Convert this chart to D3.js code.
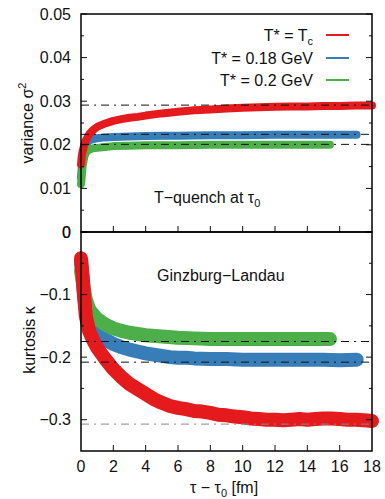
<!DOCTYPE html>
<html>
<head>
<meta charset="utf-8">
<script src="https://cdnjs.cloudflare.com/ajax/libs/d3/7.8.5/d3.min.js"></script>
<style>
  body { margin: 0; background: #fff; }
  svg text { font-family: "Liberation Sans", Arial, Helvetica, sans-serif; fill: #111; }
</style>
</head>
<body>
<div id="chart"></div>
<script>
// variance sigma^2 vs tau - tau0 (top panel)
var varTc = [[0,0.0155],[0.05,0.0175],[0.1,0.0185],[0.2,0.0200],[0.3,0.0210],[0.5,0.0224],[0.75,0.0234],[1,0.0241],[1.5,0.0249],[2,0.0255],[2.5,0.0259],[3,0.0262],[3.5,0.0264],[4,0.0267],[5,0.0272],[6,0.0276],[7,0.0279],[8,0.0281],[9,0.0283],[10,0.0285],[11,0.0286],[12,0.0287],[13,0.0288],[14,0.0288],[15,0.0289],[16,0.0289],[17,0.0290],[18,0.0290]]
var var018 = [[0,0.0125],[0.05,0.0150],[0.1,0.0170],[0.2,0.0190],[0.3,0.0200],[0.5,0.0210],[0.75,0.0213],[1,0.0215],[1.5,0.0217],[2,0.0218],[3,0.0219],[4,0.0220],[5,0.0221],[6,0.0221],[8,0.0222],[10,0.0222],[12,0.0223],[14,0.0223],[16,0.0223],[17.05,0.0223]]
var var02 = [[0,0.0110],[0.05,0.0130],[0.1,0.0150],[0.2,0.0172],[0.3,0.0182],[0.5,0.0189],[0.75,0.0192],[1,0.0193],[1.5,0.0195],[2,0.0197],[3,0.0198],[4,0.0199],[6,0.0199],[8,0.0200],[10,0.0200],[12,0.0200],[14,0.0200],[15.4,0.0200]]
var varRef = [0.0291, 0.0224, 0.0201]

// kurtosis kappa (bottom panel)
var kurTc = [[0,-0.042],[0.1,-0.070],[0.2,-0.105],[0.3,-0.135],[0.5,-0.158],[0.75,-0.173],[1,-0.185],[1.5,-0.203],[2,-0.219],[2.5,-0.232],[3,-0.243],[3.5,-0.251],[4,-0.259],[4.5,-0.267],[5,-0.273],[5.5,-0.278],[6,-0.281],[6.5,-0.283],[7,-0.286],[7.5,-0.287],[8,-0.289],[8.5,-0.292],[9,-0.293],[9.5,-0.295],[10,-0.296],[10.5,-0.298],[11,-0.299],[11.5,-0.300],[12,-0.300],[12.5,-0.301],[13,-0.300],[13.5,-0.299],[14,-0.300],[14.5,-0.299],[15,-0.298],[15.5,-0.298],[16,-0.299],[16.5,-0.300],[17,-0.300],[17.5,-0.301],[18,-0.302]]
var kur018 = [[0,-0.048],[0.1,-0.075],[0.2,-0.105],[0.3,-0.125],[0.5,-0.142],[0.75,-0.155],[1,-0.163],[1.5,-0.172],[2,-0.179],[2.5,-0.184],[3,-0.188],[3.5,-0.191],[4,-0.194],[4.5,-0.196],[5,-0.198],[5.5,-0.200],[6,-0.201],[6.5,-0.201],[7,-0.202],[8,-0.203],[9,-0.203],[10,-0.204],[11,-0.204],[12,-0.204],[13,-0.204],[14,-0.204],[15,-0.204],[16,-0.205],[17.05,-0.204]]
var kur02 = [[0,-0.062],[0.1,-0.078],[0.2,-0.095],[0.3,-0.108],[0.5,-0.123],[0.75,-0.132],[1,-0.139],[1.5,-0.148],[2,-0.154],[2.5,-0.158],[3,-0.161],[3.5,-0.163],[4,-0.165],[5,-0.167],[6,-0.169],[7,-0.170],[8,-0.171],[9,-0.171],[10,-0.171],[11,-0.171],[12,-0.171],[13,-0.171],[14,-0.171],[15,-0.171],[15.4,-0.171]]
var kurRef = [-0.175, -0.208, -0.307]

var legendLabels = ["T* = T", "T* = 0.18 GeV", "T* = 0.2 GeV"]
var colors = ["#e41a1c", "#377eb8", "#4daf4a"]
var xTicks = [0,2,4,6,8,10,12,14,16,18]
var varTicks = [0,0.01,0.02,0.03,0.04,0.05]
var kurTicks = [0,-0.1,-0.2,-0.3]

var W = 385, H = 499
var svg = d3.select("#chart").append("svg").attr("width", W).attr("height", H)

var x = d3.scaleLinear().domain([0,18]).range([81,372])
var yTop = d3.scaleLinear().domain([0,0.05]).range([232,14])
var yBot = d3.scaleLinear().domain([-0.35,0]).range([451,232])

function fmt(v) { return v == 0 ? "0" : d3.format(".2~f")(v).replace("-", "\u2212") }

function panel(y, series, refs, refColors, width, ticks, minor, showX) {
    var g = svg.append("g")
    // bands, drawn in order blue, green, red
    var order = [1,2,0]
    order.forEach(function(i) {
        g.append("path")
            .datum(series[i])
            .attr("fill", "none")
            .attr("stroke", colors[i])
            .attr("stroke-width", width)
            .attr("stroke-linecap", "round")
            .attr("stroke-linejoin", "round")
            .attr("d", d3.line().x(function(d){return x(d[0])}).y(function(d){return y(d[1])}))
    })
    // dash-dot reference lines
    refs.forEach(function(r, i) {
        g.append("line")
            .attr("x1", x(0)).attr("x2", x(18))
            .attr("y1", y(r)).attr("y2", y(r))
            .attr("stroke", refColors[i])
            .attr("stroke-width", 1)
            .attr("stroke-dasharray", "8,5,2,5")
    })
    // ticks
    var ax = g.append("g").attr("stroke", "#111").attr("stroke-width", 1)
    minor.forEach(function(v) {
        ax.append("line").attr("x1", 81).attr("x2", 84).attr("y1", y(v)).attr("y2", y(v))
        ax.append("line").attr("x1", 372).attr("x2", 369).attr("y1", y(v)).attr("y2", y(v))
    })
    ticks.forEach(function(v) {
        ax.append("line").attr("x1", 81).attr("x2", 87).attr("y1", y(v)).attr("y2", y(v))
        ax.append("line").attr("x1", 372).attr("x2", 366).attr("y1", y(v)).attr("y2", y(v))
    })
    var yb = y.range()[0]
    xTicks.slice(1, -1).forEach(function(v) {
        ax.append("line").attr("x1", x(v)).attr("x2", x(v)).attr("y1", yb).attr("y2", yb - 6)
    })
    g.selectAll("text.yl").data(ticks).enter().append("text")
        .attr("x", 71).attr("y", function(d){return y(d) + 5.5})
        .attr("text-anchor", "end").style("font-size", "16px")
        .text(fmt)
    if (showX) {
        g.selectAll("text.xl").data(xTicks).enter().append("text")
            .attr("x", function(d){return x(d)}).attr("y", 472)
            .attr("text-anchor", "middle").style("font-size", "16px")
            .text(function(d){return d})
    }
}

panel(yTop, [varTc, var018, var02], varRef, ["#111","#111","#111"], 8,
    varTicks, [0.005,0.015,0.025,0.035,0.045], false)
panel(yBot, [kurTc, kur018, kur02], kurRef, ["#111","#111","#888"], 14,
    kurTicks, [-0.05,-0.15,-0.25], true)

// frames
svg.append("rect").attr("x", 81).attr("y", 14).attr("width", 291).attr("height", 218)
    .attr("fill", "none").attr("stroke", "#000").attr("stroke-width", 1.5)
svg.append("rect").attr("x", 81).attr("y", 232).attr("width", 291).attr("height", 219)
    .attr("fill", "none").attr("stroke", "#000").attr("stroke-width", 1.5)

// axis titles
var t1 = svg.append("text").attr("transform", "translate(33,123) rotate(-90)")
    .attr("text-anchor", "middle").style("font-size", "16px")
t1.append("tspan").text("variance \u03c3")
t1.append("tspan").attr("dy", -7).style("font-size", "11px").text("2")
svg.append("text").attr("transform", "translate(35,340) rotate(-90)")
    .attr("text-anchor", "middle").style("font-size", "16px").text("kurtosis \u03ba")
var t3 = svg.append("text").attr("x", 190).attr("y", 493).style("font-size", "16px")
t3.append("tspan").text("\u03c4 \u2212 \u03c4")
t3.append("tspan").attr("dy", 4).style("font-size", "11px").text("0")
t3.append("tspan").attr("dy", -4).text(" [fm]")

// annotations
var a1 = svg.append("text").attr("x", 154).attr("y", 203).style("font-size", "16px")
a1.append("tspan").text("T\u2212quench at \u03c4")
a1.append("tspan").attr("dy", 4).style("font-size", "11px").text("0")
svg.append("text").attr("x", 157).attr("y", 281).style("font-size", "16px").text("Ginzburg\u2212Landau")

// legend
var legY = [35, 58, 80]
legendLabels.forEach(function(l, i) {
    var t = svg.append("text").attr("x", 313).attr("y", legY[i] + 5.5)
        .attr("text-anchor", "end").style("font-size", "16px")
    t.append("tspan").text(l)
    if (i == 0) t.append("tspan").attr("dy", 4).style("font-size", "11px").text("c")
    svg.append("line").attr("x1", 326).attr("x2", 349).attr("y1", legY[i]).attr("y2", legY[i])
        .attr("stroke", colors[i]).attr("stroke-width", 2)
})
</script>
</body>
</html>
